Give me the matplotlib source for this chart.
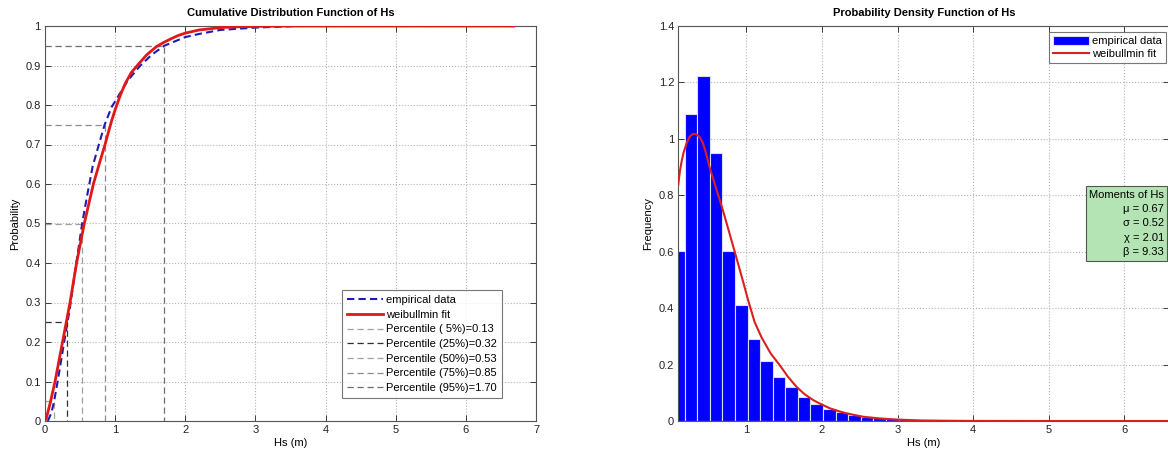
import numpy as np
import matplotlib
matplotlib.use("Agg")
import matplotlib.pyplot as plt
from matplotlib.ticker import FormatStrFormatter, MultipleLocator

plt.rcParams['font.family'] = ['Liberation Sans', 'DejaVu Sans']

# ---- empirical CDF of Hs ----
cdf_emp_x = [0.04, 0.09, 0.13, 0.18, 0.25, 0.32, 0.35, 0.43, 0.53, 0.60, 0.68,
             0.76, 0.85, 0.95, 1.02, 1.18, 1.35, 1.52, 1.70, 1.85, 2.00, 2.20,
             2.50, 3.00, 3.60, 6.68]
cdf_emp_y = [0.0, 0.02, 0.05, 0.10, 0.175, 0.25, 0.28, 0.38, 0.50, 0.57, 0.645,
             0.695, 0.75, 0.795, 0.815, 0.862, 0.898, 0.927, 0.95, 0.961, 0.972,
             0.980, 0.990, 0.996, 1.0, 1.0]

# ---- fitted Weibull CDF ----
cdf_fit_x = [0.016, 0.08, 0.143, 0.25, 0.357, 0.45, 0.56, 0.69, 0.78, 0.856,
             0.91, 0.95, 1.00, 1.07, 1.14, 1.23, 1.33, 1.45, 1.59, 1.70, 1.80,
             1.90, 2.00, 2.20, 2.50, 2.75, 3.00, 3.50, 6.68]
cdf_fit_y = [0.005, 0.05, 0.10, 0.20, 0.30, 0.40, 0.50, 0.60, 0.655, 0.70,
             0.735, 0.76, 0.788, 0.823, 0.853, 0.882, 0.903, 0.927, 0.948,
             0.959, 0.968, 0.976, 0.982, 0.990, 0.996, 0.998, 0.999, 1.0, 1.0]

# ---- percentiles ----
pct_levels = [5, 25, 50, 75, 95]
pct_values = [0.13, 0.32, 0.53, 0.85, 1.70]
pct_colors = ['#a0a0a0', '#303030', '#a0a0a0', '#8c8c8c', '#6e6e6e']

# ---- histogram (normalised) ----
hs_min, hs_max, n_bins = 0.016, 6.68, 40
hist_density = [0.603, 1.087, 1.224, 0.949, 0.603, 0.412, 0.290, 0.214, 0.156,
                0.119, 0.084, 0.060, 0.043, 0.031, 0.022, 0.015, 0.012, 0.009,
                0.006, 0.004, 0.003, 0.002, 0.0015, 0.001, 0.0008, 0.0005,
                0.0004, 0.0003, 0.0002, 0.0002, 0.0001, 0.0001, 0.0001, 0.0,
                0.0, 0.0, 0.0, 0.0, 0.0, 0.0001]

# ---- fitted Weibull PDF ----
pdf_fit_x = [0.099, 0.12, 0.144, 0.17, 0.21, 0.25, 0.298, 0.34, 0.386, 0.42,
             0.452, 0.48, 0.509, 0.59, 0.673, 0.76, 0.849, 0.94, 1.025, 1.11,
             1.20, 1.32, 1.444, 1.55, 1.664, 1.77, 1.885, 2.00, 2.105, 2.22,
             2.326, 2.546, 2.767, 2.987, 3.30, 3.60, 4.00, 5.00, 6.68]
pdf_fit_y = [0.838, 0.885, 0.921, 0.952, 0.985, 1.008, 1.018, 1.016, 1.005,
             0.988, 0.962, 0.935, 0.903, 0.833, 0.762, 0.681, 0.597, 0.510,
             0.427, 0.350, 0.297, 0.240, 0.197, 0.157, 0.121, 0.095, 0.074,
             0.058, 0.045, 0.035, 0.027, 0.015, 0.009, 0.005, 0.002, 0.001,
             0.0003, 0.0, 0.0]

# ---- moments ----
moment_names = ['\u03bc', '\u03c3', '\u03c7', '\u03b2']
moment_values = [0.67, 0.52, 2.01, 9.33]

W, H = 1168, 455
fig = plt.figure(figsize=(W / 100, H / 100), dpi=100)

FS = 8
grid_kw = dict(linestyle=':', color='#b4b4b4', linewidth=0.8)


def style_axes(ax):
    ax.tick_params(direction='in', top=True, right=True, length=4, width=0.6,
                   labelsize=FS, colors='#222222', pad=3)
    for s in ax.spines.values():
        s.set_color('#555555')
        s.set_linewidth(0.8)
    ax.grid(True, **grid_kw)
    ax.set_axisbelow(True)


# ================= CDF =================
ax1 = fig.add_axes([45 / W, 34 / H, 491 / W, 395 / H])
style_axes(ax1)
ax1.plot(cdf_emp_x, cdf_emp_y, linestyle='--', color='#1c1cb4', linewidth=1.5,
         dashes=(3.5, 2), label='empirical data', zorder=3)
ax1.plot(cdf_fit_x, cdf_fit_y, color='#e01818', linewidth=2.0,
         label='weibullmin fit', zorder=4)
for lvl, val, col in zip(pct_levels, pct_values, pct_colors):
    q = lvl / 100
    ax1.plot([0, val, val], [q, q, 0], linestyle='--', dashes=(5, 3),
             color=col, linewidth=0.9, zorder=2,
             label=f'Percentile ({lvl:2d}%)={val:.2f}')
ax1.set_xlim(0, 7)
ax1.set_ylim(0, 1)
ax1.xaxis.set_major_locator(MultipleLocator(1))
ax1.yaxis.set_major_locator(MultipleLocator(0.1))
ax1.yaxis.set_major_formatter(FormatStrFormatter('%g'))
ax1.set_xlabel('Hs (m)', fontsize=FS, labelpad=2)
ax1.set_ylabel('Probability', fontsize=FS, labelpad=4)
ax1.set_title('Cumulative Distribution Function of Hs', fontsize=FS,
              fontweight='bold', pad=7)
leg1 = ax1.legend(loc='lower right', bbox_to_anchor=(0.931, 0.058),
                  fontsize=FS, frameon=True, fancybox=False, handlelength=3.2,
                  handletextpad=0.3, borderpad=0.45, labelspacing=0.42,
                  borderaxespad=0)
leg1.get_frame().set_edgecolor('#555555')
leg1.get_frame().set_linewidth(0.8)

# ================= PDF =================
ax2 = fig.add_axes([678.3 / W, 34 / H, 491 / W, 395 / H])
style_axes(ax2)
edges = np.linspace(hs_min, hs_max, n_bins + 1)
centers = (edges[:-1] + edges[1:]) / 2
width = edges[1] - edges[0]
bars = ax2.bar(centers, hist_density, width=width, color='#0000ff',
               edgecolor='#dcdcf0', linewidth=0.8, label='empirical data',
               zorder=2)
fit_line, = ax2.plot(pdf_fit_x, pdf_fit_y, color='#d82020', linewidth=1.5,
                     label='weibullmin fit', zorder=3)
ax2.set_xlim(centers[0], centers[-1])
ax2.set_ylim(0, 1.4)
ax2.xaxis.set_major_locator(MultipleLocator(1))
ax2.yaxis.set_major_locator(MultipleLocator(0.2))
ax2.yaxis.set_major_formatter(FormatStrFormatter('%g'))
ax2.set_xlabel('Hs (m)', fontsize=FS, labelpad=2)
ax2.set_ylabel('Frequency', fontsize=FS, labelpad=4)
ax2.set_title('Probability Density Function of Hs', fontsize=FS,
              fontweight='bold', pad=7)
leg2 = ax2.legend([bars, fit_line], ['empirical data', 'weibullmin fit'],
                  loc='upper right', bbox_to_anchor=(0.993, 0.985),
                  fontsize=FS, frameon=True, fancybox=False, handlelength=3.2,
                  handleheight=0.9, handletextpad=0.3, borderpad=0.35,
                  labelspacing=0.25, borderaxespad=0)
leg2.get_frame().set_edgecolor('#555555')
leg2.get_frame().set_linewidth(0.8)

moment_text = 'Moments of Hs\n' + '\n'.join(
    f'{n} = {v:.2f}' for n, v in zip(moment_names, moment_values))
ax2.text(0.989, 0.50, moment_text, transform=ax2.transAxes, fontsize=FS,
         ha='right', va='center', multialignment='right', linespacing=1.55,
         zorder=5,
         bbox=dict(boxstyle='square,pad=0.3', facecolor='#b4e4b4',
                   edgecolor='#555555', linewidth=0.8))

fig.savefig('out.png', dpi=100)
